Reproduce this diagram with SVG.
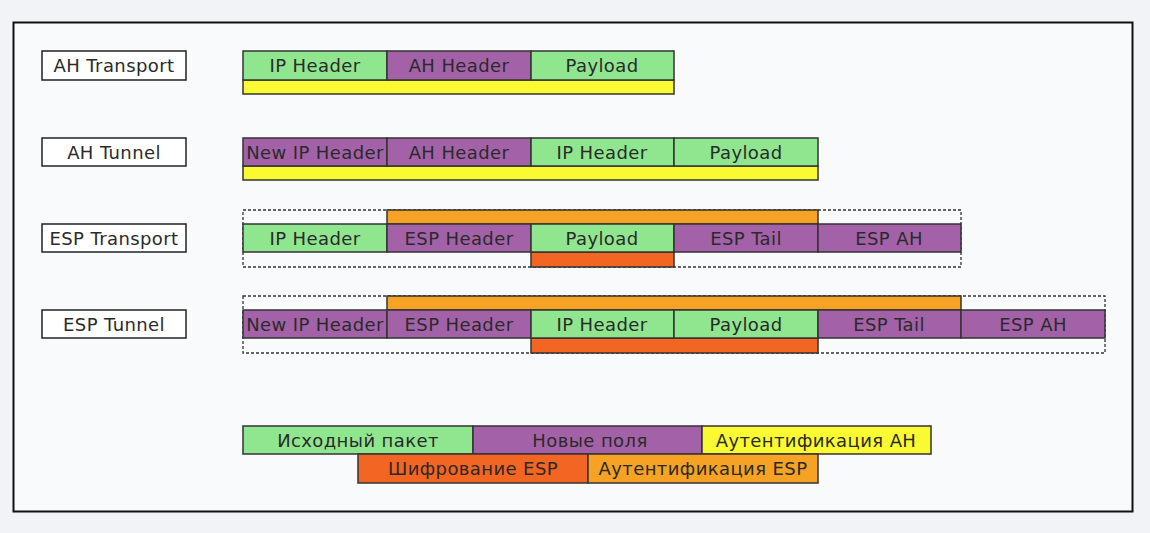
<svg xmlns="http://www.w3.org/2000/svg" width="1150" height="533" viewBox="0 0 1150 533">
<style>
text{font-family:"DejaVu Sans","Liberation Sans",sans-serif;font-size:18px;fill:#2a2a2a;text-anchor:middle;letter-spacing:0.4px}
.lg text{font-size:18px;letter-spacing:0.4px}
.lbl{fill:#ffffff;stroke:#222;stroke-width:1.5}
.c{stroke:#333;stroke-width:1.5}
.g{fill:#8fe68f}
.p{fill:#a362a8}
.y{fill:#fafa32}
.o{fill:#f6a224}
.r{fill:#f26522}
.d{fill:none;stroke:#333;stroke-width:1.3;stroke-dasharray:3,2}
</style>
<rect x="0" y="0" width="1150" height="533" fill="#f1f3f7"/>
<rect x="13.5" y="22.5" width="1119" height="489" fill="#f9fafc" stroke="#111" stroke-width="2"/>

<g id="lbl-ah-transport"><rect class="lbl" x="42" y="51" width="144" height="29"/><text x="114" y="72">AH Transport</text></g>
<g id="lbl-ah-tunnel"><rect class="lbl" x="42" y="138" width="144" height="28"/><text x="114" y="159">AH Tunnel</text></g>
<g id="lbl-esp-transport"><rect class="lbl" x="42" y="224" width="144" height="28"/><text x="114" y="245">ESP Transport</text></g>
<g id="lbl-esp-tunnel"><rect class="lbl" x="42" y="310" width="144" height="28"/><text x="114" y="331">ESP Tunnel</text></g>

<g id="row-ah-transport">
<rect class="c y" x="243" y="80" width="431" height="14"/>
<rect class="c g" x="243" y="51" width="144" height="29"/><text x="315" y="72">IP Header</text>
<rect class="c p" x="387" y="51" width="144" height="29"/><text x="459" y="72">AH Header</text>
<rect class="c g" x="531" y="51" width="143" height="29"/><text x="602" y="72">Payload</text>
</g>

<g id="row-ah-tunnel">
<rect class="c y" x="243" y="166" width="575" height="14"/>
<rect class="c p" x="243" y="138" width="144" height="28"/><text x="315" y="159">New IP Header</text>
<rect class="c p" x="387" y="138" width="144" height="28"/><text x="459" y="159">AH Header</text>
<rect class="c g" x="531" y="138" width="143" height="28"/><text x="602" y="159">IP Header</text>
<rect class="c g" x="674" y="138" width="144" height="28"/><text x="746" y="159">Payload</text>
</g>

<g id="row-esp-transport">
<rect class="d" x="243" y="210" width="718" height="57"/>
<rect class="c o" x="387" y="210" width="431" height="14"/>
<rect class="c r" x="531" y="252" width="143" height="15"/>
<rect class="c g" x="243" y="224" width="144" height="28"/><text x="315" y="245">IP Header</text>
<rect class="c p" x="387" y="224" width="144" height="28"/><text x="459" y="245">ESP Header</text>
<rect class="c g" x="531" y="224" width="143" height="28"/><text x="602" y="245">Payload</text>
<rect class="c p" x="674" y="224" width="144" height="28"/><text x="746" y="245">ESP Tail</text>
<rect class="c p" x="818" y="224" width="143" height="28"/><text x="889" y="245">ESP AH</text>
</g>

<g id="row-esp-tunnel">
<rect class="d" x="243" y="296" width="862" height="57"/>
<rect class="c o" x="387" y="296" width="574" height="14"/>
<rect class="c r" x="531" y="338" width="287" height="15"/>
<rect class="c p" x="243" y="310" width="144" height="28"/><text x="315" y="331">New IP Header</text>
<rect class="c p" x="387" y="310" width="144" height="28"/><text x="459" y="331">ESP Header</text>
<rect class="c g" x="531" y="310" width="143" height="28"/><text x="602" y="331">IP Header</text>
<rect class="c g" x="674" y="310" width="144" height="28"/><text x="746" y="331">Payload</text>
<rect class="c p" x="818" y="310" width="143" height="28"/><text x="889" y="331">ESP Tail</text>
<rect class="c p" x="961" y="310" width="144" height="28"/><text x="1033" y="331">ESP AH</text>
</g>

<g id="legend" class="lg">
<rect class="c g" x="243" y="426" width="230" height="28"/><text x="358" y="447">Исходный пакет</text>
<rect class="c p" x="473" y="426" width="229" height="28"/><text x="590" y="447">Новые поля</text>
<rect class="c y" x="702" y="426" width="229" height="28"/><text x="816" y="447">Аутентификация AH</text>
<rect class="c r" x="358" y="454" width="230" height="29"/><text x="473" y="475">Шифрование ESP</text>
<rect class="c o" x="588" y="454" width="230" height="29"/><text x="703" y="475">Аутентификация ESP</text>
</g>
<g id="connectors"/>
</svg>
